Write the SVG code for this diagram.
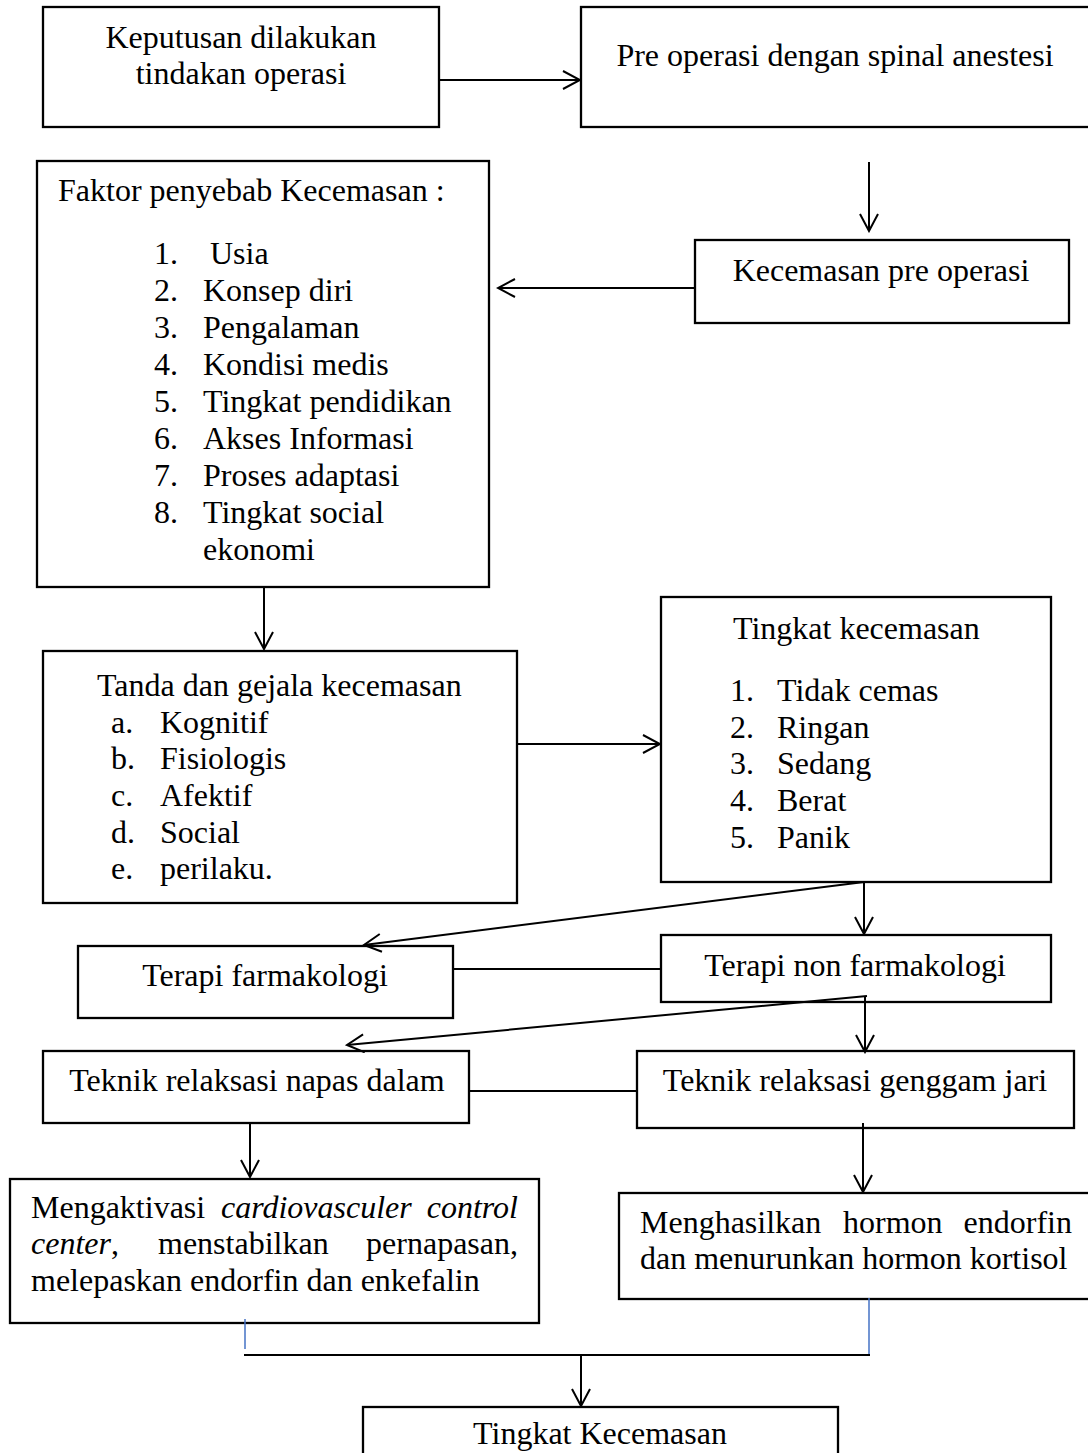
<svg xmlns="http://www.w3.org/2000/svg" width="1088" height="1453" viewBox="0 0 1088 1453">
<style>
  .box { fill: #fff; stroke: #000; stroke-width: 2.3; }
  .t { font-family: "Liberation Serif", "Times New Roman", serif; font-size: 32px; fill: #000; }
  .c { text-anchor: middle; }
  .e { text-anchor: end; }
  .i { font-style: italic; }
  .con { fill: none; stroke: #000; stroke-width: 2; }
  .blue { fill: none; stroke: #4472C4; stroke-width: 1.5; }
</style>
<defs>
  <marker id="arr" markerUnits="userSpaceOnUse" viewBox="0 0 20 20" refX="18" refY="10" markerWidth="20" markerHeight="20" orient="auto">
    <path d="M1,1 L18,10 L1,19" fill="none" stroke="#000" stroke-width="2"/>
  </marker>
</defs>
<rect width="1088" height="1453" fill="#fff"/>

<g id="n1">
  <rect class="box" x="43" y="7" width="396" height="120"/>
  <text class="t c" x="241" y="48">Keputusan dilakukan</text>
  <text class="t c" x="241" y="84">tindakan operasi</text>
</g>

<g id="n2">
  <rect class="box" x="581" y="7" width="514" height="120"/>
  <text class="t c" x="835" y="66">Pre operasi dengan spinal anestesi</text>
</g>

<g id="n3">
  <rect class="box" x="695" y="240" width="374" height="83"/>
  <text class="t c" x="881" y="281">Kecemasan pre operasi</text>
</g>

<g id="n4">
  <rect class="box" x="37" y="161" width="452" height="426"/>
  <text class="t" x="58" y="201">Faktor penyebab Kecemasan :</text>
  <text class="t" x="154" y="264">1.</text><text class="t" x="210" y="264">Usia</text>
  <text class="t" x="154" y="301">2.</text><text class="t" x="203" y="301">Konsep diri</text>
  <text class="t" x="154" y="338">3.</text><text class="t" x="203" y="338">Pengalaman</text>
  <text class="t" x="154" y="375">4.</text><text class="t" x="203" y="375">Kondisi medis</text>
  <text class="t" x="154" y="412">5.</text><text class="t" x="203" y="412">Tingkat pendidikan</text>
  <text class="t" x="154" y="449">6.</text><text class="t" x="203" y="449">Akses Informasi</text>
  <text class="t" x="154" y="486">7.</text><text class="t" x="203" y="486">Proses adaptasi</text>
  <text class="t" x="154" y="523">8.</text><text class="t" x="203" y="523">Tingkat social</text>
  <text class="t" x="203" y="560">ekonomi</text>
</g>

<g id="n5">
  <rect class="box" x="43" y="651" width="474" height="252"/>
  <text class="t" x="97" y="696">Tanda dan gejala kecemasan</text>
  <text class="t" x="111" y="733">a.</text><text class="t" x="160" y="733">Kognitif</text>
  <text class="t" x="111" y="769">b.</text><text class="t" x="160" y="769">Fisiologis</text>
  <text class="t" x="111" y="806">c.</text><text class="t" x="160" y="806">Afektif</text>
  <text class="t" x="111" y="843">d.</text><text class="t" x="160" y="843">Social</text>
  <text class="t" x="111" y="879">e.</text><text class="t" x="160" y="879">perilaku.</text>
</g>

<g id="n6">
  <rect class="box" x="661" y="597" width="390" height="285"/>
  <text class="t" x="733" y="639">Tingkat kecemasan</text>
  <text class="t" x="730" y="701">1.</text><text class="t" x="777" y="701">Tidak cemas</text>
  <text class="t" x="730" y="738">2.</text><text class="t" x="777" y="738">Ringan</text>
  <text class="t" x="730" y="774">3.</text><text class="t" x="777" y="774">Sedang</text>
  <text class="t" x="730" y="811">4.</text><text class="t" x="777" y="811">Berat</text>
  <text class="t" x="730" y="848">5.</text><text class="t" x="777" y="848">Panik</text>
</g>

<g id="n7">
  <rect class="box" x="78" y="946" width="375" height="72"/>
  <text class="t c" x="265" y="986">Terapi farmakologi</text>
</g>

<g id="n8">
  <rect class="box" x="661" y="935" width="390" height="67"/>
  <text class="t c" x="855" y="976">Terapi non farmakologi</text>
</g>

<g id="n9">
  <rect class="box" x="43" y="1051" width="426" height="72"/>
  <text class="t c" x="257" y="1091">Teknik relaksasi napas dalam</text>
</g>

<g id="n10">
  <rect class="box" x="637" y="1051" width="437" height="77"/>
  <text class="t c" x="855" y="1091">Teknik relaksasi genggam jari</text>
</g>

<g id="n11">
  <rect class="box" x="10" y="1179" width="529" height="144"/>
  <text class="t" x="31" y="1218">Mengaktivasi</text>
  <text class="t i" x="221" y="1218">cardiovasculer</text>
  <text class="t i e" x="518" y="1218">control</text>
  <text class="t" x="31" y="1254"><tspan class="i">center</tspan>,</text>
  <text class="t" x="158" y="1254">menstabilkan</text>
  <text class="t e" x="518" y="1254">pernapasan,</text>
  <text class="t" x="31" y="1291">melepaskan endorfin dan enkefalin</text>
</g>

<g id="n12">
  <rect class="box" x="619" y="1193" width="476" height="106"/>
  <text class="t" x="640" y="1233">Menghasilkan</text>
  <text class="t" x="843" y="1233">hormon</text>
  <text class="t e" x="1072" y="1233">endorfin</text>
  <text class="t" x="640" y="1269">dan menurunkan hormon kortisol</text>
</g>

<g id="n13">
  <rect class="box" x="363" y="1407" width="475" height="60"/>
  <text class="t c" x="600" y="1444">Tingkat Kecemasan</text>
</g>

<g id="connectors">
  <line class="con" x1="439" y1="80" x2="580" y2="80" marker-end="url(#arr)"/>
  <line class="con" x1="869" y1="162" x2="869" y2="231" marker-end="url(#arr)"/>
  <line class="con" x1="695" y1="288" x2="498" y2="288" marker-end="url(#arr)"/>
  <line class="con" x1="264" y1="587" x2="264" y2="649" marker-end="url(#arr)"/>
  <line class="con" x1="517" y1="744" x2="660" y2="744" marker-end="url(#arr)"/>
  <line class="con" x1="864" y1="882" x2="364" y2="945" marker-end="url(#arr)"/>
  <line class="con" x1="864" y1="882" x2="864" y2="934" marker-end="url(#arr)"/>
  <line class="con" x1="453" y1="969" x2="661" y2="969"/>
  <line class="con" x1="867" y1="996" x2="347" y2="1045" marker-end="url(#arr)"/>
  <line class="con" x1="865" y1="996" x2="865" y2="1052" marker-end="url(#arr)"/>
  <line class="con" x1="469" y1="1091" x2="637" y2="1091"/>
  <line class="con" x1="250" y1="1123" x2="250" y2="1177" marker-end="url(#arr)"/>
  <line class="con" x1="863" y1="1123" x2="863" y2="1192" marker-end="url(#arr)"/>
  <line class="blue" x1="245" y1="1319" x2="245" y2="1349"/>
  <line class="blue" x1="869" y1="1298" x2="869" y2="1355"/>
  <line class="con" x1="244" y1="1355" x2="870" y2="1355"/>
  <line class="con" x1="581" y1="1355" x2="581" y2="1406" marker-end="url(#arr)"/>
</g>
</svg>
